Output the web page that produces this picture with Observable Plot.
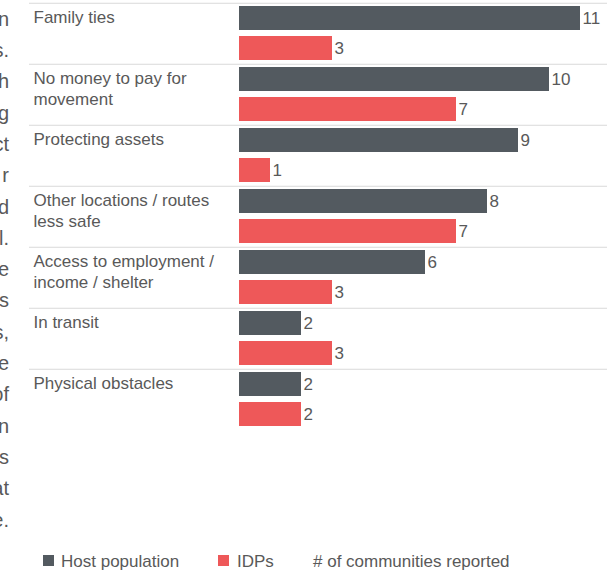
<!DOCTYPE html>
<html>
<head>
<meta charset="utf-8">
<script src="https://cdn.jsdelivr.net/npm/d3@7"></script>
<script src="https://cdn.jsdelivr.net/npm/@observablehq/plot@0.6"></script>
<style>
  html, body { margin: 0; padding: 0; background: #fff; width: 607px; height: 571px; overflow: hidden; }
  body { position: relative; font-family: "Liberation Sans", Arial, sans-serif; color: #595959; }
  #chart { position: absolute; left: 0; top: 0; z-index: 1; }
  #para { position: absolute; left: -100px; top: 3.75px; width: 109px; text-align: right; z-index: 2;
          font-size: 20px; line-height: 31.3px; color: #595959; white-space: pre; }
  .leg { position: absolute; top: 552px; font-size: 17px; line-height: 20px; color: #595959; white-space: nowrap; }
  .sw { position: absolute; top: 555px; width: 11px; height: 11px; }
</style>
</head>
<body>
<div id="chart"></div>
<div id="para"></div>
<div id="legend"></div>
<script>
const categories = [
  "Family ties",
  "No money to pay for movement",
  "Protecting assets",
  "Other locations / routes less safe",
  "Access to employment / income / shelter",
  "In transit",
  "Physical obstacles"
];
const seriesNames = ["Host population", "IDPs"];
const hostValues = [11, 10, 9, 8, 6, 2, 2];
const idpValues = [3, 7, 1, 7, 3, 3, 2];
const seriesColors = ["#535a60", "#ee5859"];
const legendNote = "# of communities reported";
// visible fragments of a clipped paragraph at the left edge
const paraFragments = ["n", "s.", "h", "g", "ct", "r", "d", "l.", "e", "s", "s,", "e", "of", "n", "s", "at", "e."];

const data = categories.flatMap((c, i) => [
  {category: c, series: seriesNames[0], value: hostValues[i]},
  {category: c, series: seriesNames[1], value: idpValues[i]}
]);

document.getElementById("para").textContent = paraFragments.join("\n");

const yPadInner = 0.2, yPadOuter = 0.1, facetH = 61;
const step = facetH / (2 - yPadInner + 2 * yPadOuter);
const bandCenterOffset = step * yPadOuter + step * (1 - yPadInner) / 2;

const chart = Plot.plot({
  width: 607,
  height: 2 + 7 * facetH + 10,
  marginLeft: 239,
  marginRight: 27,
  marginTop: 2,
  marginBottom: 10,
  style: {fontFamily: "'Liberation Sans', Arial, sans-serif", fontSize: "17px", background: "transparent", color: "#595959"},
  x: {domain: [0, 11], axis: null},
  y: {domain: seriesNames, axis: null, paddingInner: yPadInner, paddingOuter: yPadOuter},
  fy: {domain: categories, axis: null, padding: 0},
  color: {domain: seriesNames, range: seriesColors},
  marks: [
    Plot.ruleY(categories, {fy: d => d, y: () => seriesNames[0], dy: -bandCenterOffset,
      stroke: "#d9d9d9", strokeWidth: 1, insetLeft: -210, insetRight: -27}),
    Plot.barX(data, {fy: "category", y: "series", x: "value", fill: "series"}),
    Plot.text(data, {fy: "category", y: "series", x: "value", text: d => String(d.value),
      dx: 2, textAnchor: "start", fill: "#595959", fontSize: 17}),
    Plot.text(categories, {fy: d => d, text: d => d, frameAnchor: "top-left", textAnchor: "start",
      lineAnchor: "top", dx: -206, dy: 5, lineWidth: 12, lineHeight: 1.25, fill: "#595959", fontSize: 17})
  ]
});
document.getElementById("chart").appendChild(chart);

const legend = document.getElementById("legend");
const legItems = [
  {text: seriesNames[0], color: seriesColors[0], sx: 43, tx: 61},
  {text: seriesNames[1], color: seriesColors[1], sx: 218, tx: 237},
  {text: legendNote, color: null, sx: null, tx: 313}
];
for (const it of legItems) {
  if (it.color) {
    const s = document.createElement("div");
    s.className = "sw"; s.style.left = it.sx + "px"; s.style.background = it.color;
    legend.appendChild(s);
  }
  const t = document.createElement("div");
  t.className = "leg"; t.style.left = it.tx + "px"; t.textContent = it.text;
  legend.appendChild(t);
}
</script>
</body>
</html>
